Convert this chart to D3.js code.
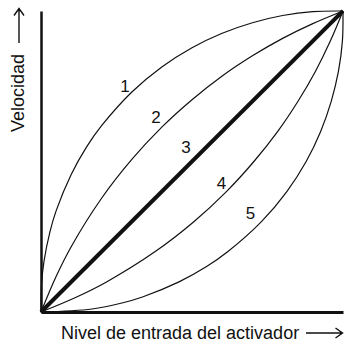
<!DOCTYPE html>
<html>
<head>
<meta charset="utf-8">
<script src="https://cdn.jsdelivr.net/npm/d3@7"></script>
<style>
  html, body { margin: 0; padding: 0; background: #fff; }
  svg { display: block; font-family: "Liberation Sans", Arial, Helvetica, sans-serif; }
</style>
</head>
<body>
<div id="chart"></div>
<script>
// curve points (input level %, velocity %)
var curve1X = [0, 0.2, 1, 3, 5, 10, 15, 20, 30, 40, 50, 60, 70, 80, 90, 100];
var curve1Y = [0, 9.5, 16.9, 26.8, 33.6, 45.7, 54.7, 61.8, 73, 81.4, 87.8, 92.6, 96.1, 98.5, 99.8, 100];
var curve2X = [0, 5, 10, 20, 30, 40, 50, 60, 70, 80, 90, 100];
var curve2Y = [0, 11.8, 21.7, 37.7, 50.6, 61.4, 70.5, 78.4, 85.1, 90.9, 95.8, 100];
var curve3X = [0, 100];
var curve3Y = [0, 100];
var curve4X = [0, 11.8, 21.7, 37.7, 50.6, 61.4, 70.5, 78.4, 85.1, 90.9, 95.8, 100];
var curve4Y = [0, 5, 10, 20, 30, 40, 50, 60, 70, 80, 90, 100];
var curve5X = [0, 16.9, 26.8, 33.6, 45.7, 54.7, 61.8, 73, 81.4, 87.8, 92.6, 96.1, 98.5, 99.8, 100];
var curve5Y = [0, 1, 3, 5, 10, 15, 20, 30, 40, 50, 60, 70, 80, 90, 100];

// curve numbers and where they sit
var curveNames = ["1", "2", "3", "4", "5"];
var labelX = [27.8, 38.1, 48.0, 59.8, 69.4];
var labelY = [75.1, 64.7, 54.7, 43.0, 33.0];

var xTitle = "Nivel de entrada del activador";
var yTitle = "Velocidad";

// set size and scales
var width = 344,
    height = 343;

var x = d3.scaleLinear().domain([0, 100]).range([41, 343]);
var y = d3.scaleLinear().domain([0, 100]).range([312, 11]);

var svg = d3.select("#chart").append("svg")
    .attr("width", width)
    .attr("height", height);

// build the curves
var curves = [
  {xs: curve1X, ys: curve1Y, w: 1.2},
  {xs: curve2X, ys: curve2Y, w: 1.2},
  {xs: curve3X, ys: curve3Y, w: 4},
  {xs: curve4X, ys: curve4Y, w: 1.2},
  {xs: curve5X, ys: curve5Y, w: 1.2}
];

var line = d3.line()
    .x(function(d) { return x(d[0]); })
    .y(function(d) { return y(d[1]); })
    .curve(d3.curveCatmullRom.alpha(0.5));

svg.selectAll(".curve")
    .data(curves)
    .enter()
    .append("path")
    .attr("class", "curve")
    .attr("fill", "none")
    .attr("stroke", "#111")
    .attr("stroke-width", function(d) { return d.w; })
    .attr("d", function(d) { return line(d3.zip(d.xs, d.ys)); });

// axes without ticks
var xAxis = svg.append("g")
    .attr("transform", "translate(0," + y(0) + ")")
    .call(d3.axisBottom(x).tickValues([]).tickSizeOuter(0));
xAxis.select(".domain").attr("stroke", "#111").attr("stroke-width", 3);

var yAxis = svg.append("g")
    .attr("transform", "translate(" + x(0) + ",0)")
    .call(d3.axisLeft(y).tickValues([]).tickSizeOuter(0));
yAxis.select(".domain").attr("stroke", "#111").attr("stroke-width", 2.5);

// curve numbers
svg.selectAll(".num")
    .data(curveNames)
    .enter()
    .append("text")
    .attr("class", "num")
    .attr("x", function(d, i) { return x(labelX[i]); })
    .attr("y", function(d, i) { return y(labelY[i]); })
    .attr("dy", "0.36em")
    .attr("text-anchor", "middle")
    .attr("font-size", 17)
    .attr("fill", "#111")
    .text(function(d) { return d; });

// axis titles
svg.append("text")
    .attr("x", 61)
    .attr("y", 339)
    .attr("font-size", 18)
    .attr("fill", "#111")
    .text(xTitle);

svg.append("text")
    .attr("transform", "translate(24,132) rotate(-90)")
    .attr("font-size", 18)
    .attr("fill", "#111")
    .text(yTitle);

// arrows next to the titles
svg.append("path")
    .attr("d", "M306,333H342M335.5,328L342.5,333L335.5,338")
    .attr("fill", "none")
    .attr("stroke", "#111")
    .attr("stroke-width", 1.4);

svg.append("path")
    .attr("d", "M19,43V9M14,15.5L19,8.5L24,15.5")
    .attr("fill", "none")
    .attr("stroke", "#111")
    .attr("stroke-width", 1.4);
</script>
</body>
</html>
